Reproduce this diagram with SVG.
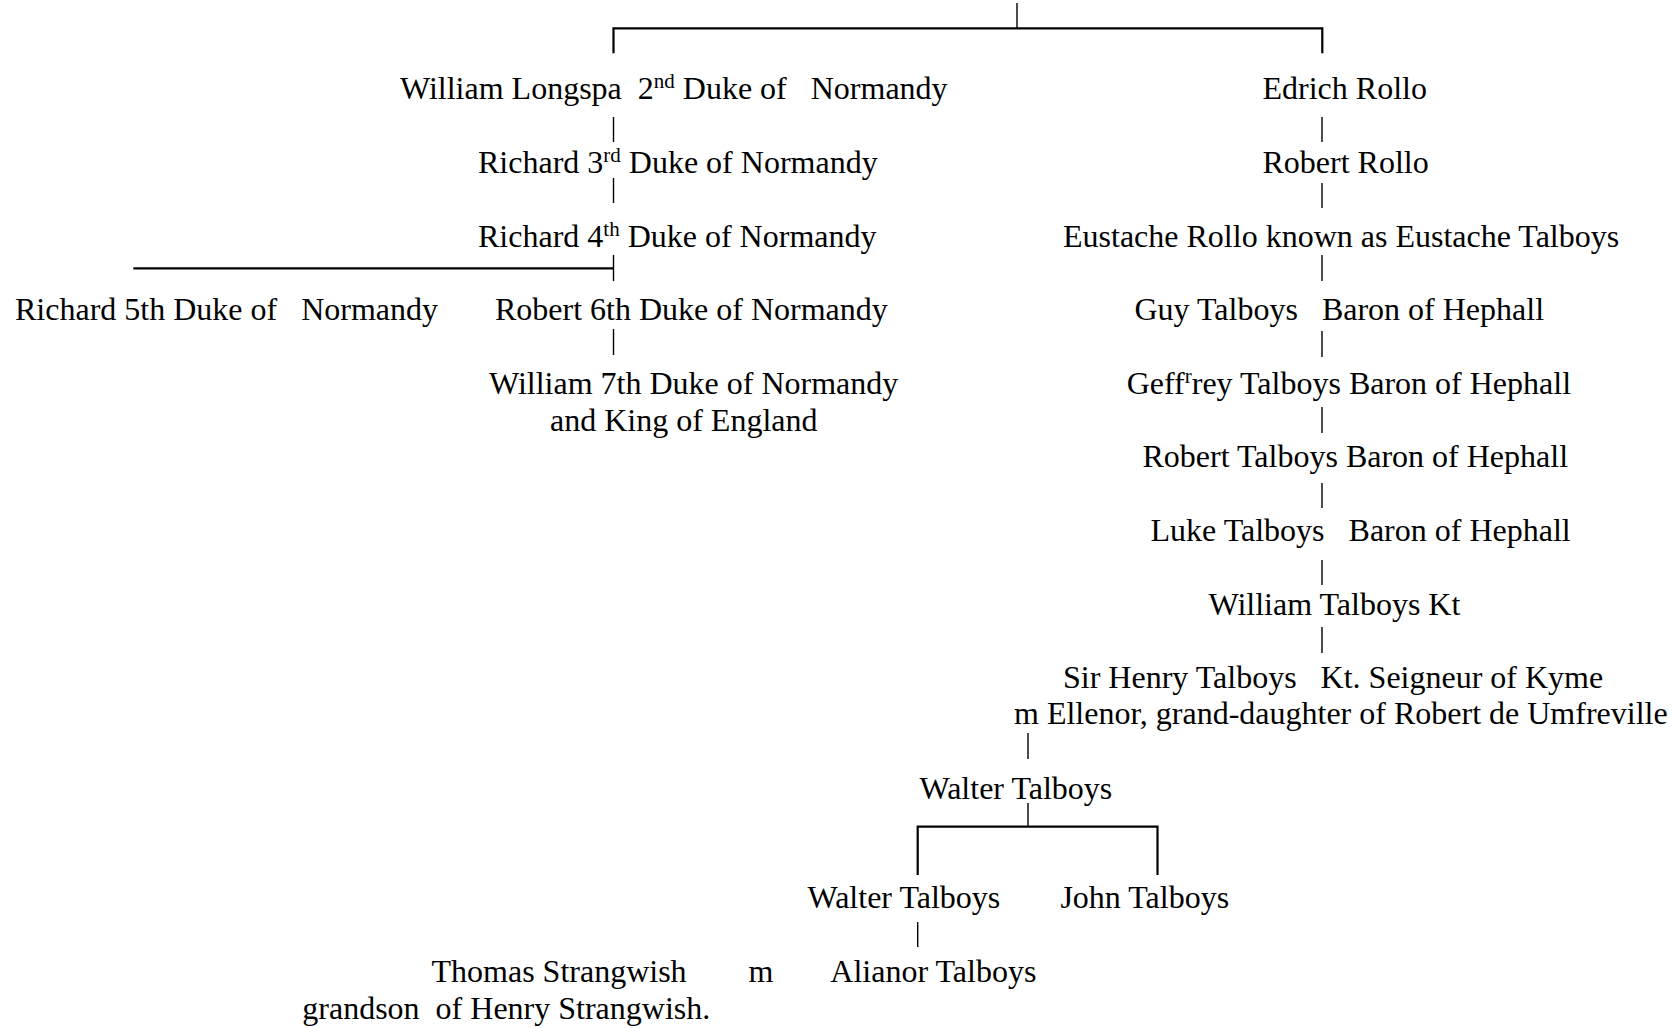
<svg xmlns="http://www.w3.org/2000/svg" width="1676" height="1028" viewBox="0 0 1676 1028">
<style>
text{font-family:"Liberation Serif","Times New Roman",serif;font-size:32px;fill:#000;white-space:pre}
.sup{font-size:21px}
.h{stroke:#000;stroke-width:2.2;fill:none}
.v{stroke:#000;stroke-width:1.4;fill:none}
</style>
<rect width="1676" height="1028" fill="#fff"/>
<g id="connectors">
<line class="v" x1="1017" y1="3" x2="1017" y2="28.3"/>
<polyline class="h" points="613.5,53.3 613.5,28.3 1322.3,28.3 1322.3,53.3"/>
<line class="v" x1="613.5" y1="117" x2="613.5" y2="142"/>
<line class="v" x1="613.5" y1="178" x2="613.5" y2="203"/>
<line class="v" x1="613.5" y1="255" x2="613.5" y2="281"/>
<line class="h" x1="133.3" y1="268.3" x2="613.5" y2="268.3"/>
<line class="v" x1="613.5" y1="329" x2="613.5" y2="355"/>
<line class="v" x1="1322" y1="117" x2="1322" y2="142"/>
<line class="v" x1="1322" y1="183" x2="1322" y2="208"/>
<line class="v" x1="1322" y1="255" x2="1322" y2="281"/>
<line class="v" x1="1322" y1="331" x2="1322" y2="357"/>
<line class="v" x1="1322" y1="407" x2="1322" y2="433"/>
<line class="v" x1="1322" y1="483" x2="1322" y2="508"/>
<line class="v" x1="1322" y1="560" x2="1322" y2="585"/>
<line class="v" x1="1322" y1="627" x2="1322" y2="653"/>
<line class="v" x1="1028" y1="733" x2="1028" y2="759"/>
<line class="v" x1="1028" y1="803" x2="1028" y2="826.7"/>
<polyline class="h" points="917.7,875 917.7,826.7 1157.5,826.7 1157.5,875"/>
<line class="v" x1="917.7" y1="922" x2="917.7" y2="947"/>
</g>
<g id="william-longspa"><text x="400" y="99" xml:space="preserve">William Longspa  2<tspan class="sup" dy="-11">nd</tspan><tspan dy="11"> Duke of   Normandy</tspan></text></g>
<g id="richard-3"><text x="478" y="172.5">Richard 3<tspan class="sup" dy="-11">rd</tspan><tspan dy="11"> Duke of Normandy</tspan></text></g>
<g id="richard-4"><text x="478" y="246.5">Richard 4<tspan class="sup" dy="-11">th</tspan><tspan dy="11"> Duke of Normandy</tspan></text></g>
<g id="richard-5"><text x="15" y="319.5" xml:space="preserve">Richard 5th Duke of   Normandy</text></g>
<g id="robert-6"><text x="495" y="319.5">Robert 6th Duke of Normandy</text></g>
<g id="william-7"><text x="489" y="394">William 7th Duke of Normandy</text><text x="550" y="431">and King of England</text></g>
<g id="edrich-rollo"><text x="1262.5" y="99">Edrich Rollo</text></g>
<g id="robert-rollo"><text x="1262.5" y="172.5">Robert Rollo</text></g>
<g id="eustache"><text x="1063" y="246.5">Eustache Rollo known as Eustache Talboys</text></g>
<g id="guy-talboys"><text x="1134.5" y="319.5" xml:space="preserve">Guy Talboys   Baron of Hephall</text></g>
<g id="geffrey-talboys"><text x="1126.7" y="393.5">Geff<tspan class="sup" dy="-11">r</tspan><tspan dy="11">rey Talboys Baron of Hephall</tspan></text></g>
<g id="robert-talboys"><text x="1142.5" y="467">Robert Talboys Baron of Hephall</text></g>
<g id="luke-talboys"><text x="1150.5" y="541" xml:space="preserve">Luke Talboys   Baron of Hephall</text></g>
<g id="william-talboys"><text x="1208.5" y="615">William Talboys Kt</text></g>
<g id="henry-talboys"><text x="1063" y="688" xml:space="preserve">Sir Henry Talboys   Kt. Seigneur of Kyme</text><text x="1014" y="724">m Ellenor, grand-daughter of Robert de Umfreville</text></g>
<g id="walter-talboys-1"><text x="919.5" y="798.5">Walter Talboys</text></g>
<g id="walter-talboys-2"><text x="807.5" y="907.5">Walter Talboys</text></g>
<g id="john-talboys"><text x="1060.4" y="907.5">John Talboys</text></g>
<g id="thomas-strangwish"><text x="431.5" y="982">Thomas Strangwish</text><text x="302.3" y="1018.5" xml:space="preserve">grandson  of Henry Strangwish.</text></g>
<g id="marriage"><text x="748.5" y="982">m</text></g>
<g id="alianor-talboys"><text x="830.3" y="982">Alianor Talboys</text></g>
</svg>
